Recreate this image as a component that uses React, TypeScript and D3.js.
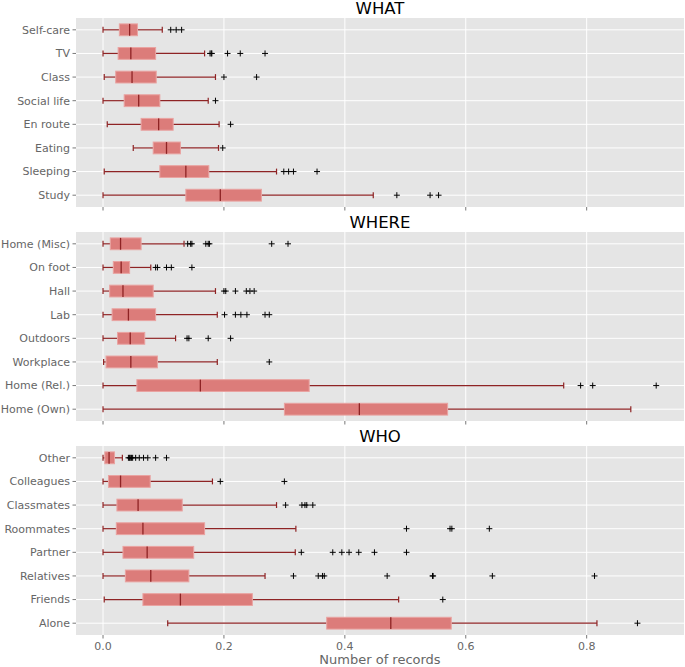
import React from "react";
import * as d3 from "d3";

// ---------- DATA ----------
type Box = { name: string; lo: number; q1: number; med: number; q3: number; hi: number; fliers: number[] };

const whatCats = ["Self-care", "TV", "Class", "Social life", "En route", "Eating", "Sleeping", "Study"];
const whatStats: [number, number, number, number, number][] = [
  [0.0, 0.027, 0.044, 0.057, 0.098],
  [0.0, 0.025, 0.046, 0.087, 0.168],
  [0.002, 0.021, 0.048, 0.088, 0.186],
  [0.0, 0.035, 0.059, 0.094, 0.174],
  [0.007, 0.063, 0.092, 0.116, 0.192],
  [0.05, 0.083, 0.105, 0.128, 0.191],
  [0.002, 0.094, 0.137, 0.175, 0.287],
  [0.0, 0.137, 0.194, 0.262, 0.447],
];
const whatFliers: number[][] = [
  [0.112, 0.121, 0.13],
  [0.177, 0.179, 0.18, 0.206, 0.227, 0.268],
  [0.2, 0.254],
  [0.186],
  [0.211],
  [0.198],
  [0.299, 0.307, 0.315, 0.354],
  [0.486, 0.541, 0.555],
];

const whereCats = ["Home (Misc)", "On foot", "Hall", "Lab", "Outdoors", "Workplace", "Home (Rel.)", "Home (Own)"];
const whereStats: [number, number, number, number, number][] = [
  [0.0, 0.012, 0.029, 0.063, 0.134],
  [0.0, 0.017, 0.03, 0.044, 0.079],
  [0.0, 0.011, 0.033, 0.083, 0.186],
  [0.0, 0.015, 0.042, 0.087, 0.189],
  [0.0, 0.024, 0.045, 0.069, 0.12],
  [0.001, 0.005, 0.046, 0.09, 0.189],
  [0.0, 0.056, 0.161, 0.341, 0.762],
  [0.0, 0.3, 0.424, 0.57, 0.873],
];
const whereFliers: number[][] = [
  [0.14, 0.145, 0.147, 0.17, 0.174, 0.176, 0.279, 0.306],
  [0.087, 0.09, 0.105, 0.113, 0.147],
  [0.2, 0.203, 0.219, 0.237, 0.243, 0.25],
  [0.201, 0.219, 0.228, 0.238, 0.268, 0.275],
  [0.139, 0.142, 0.174, 0.211],
  [0.275],
  [0.79, 0.81, 0.915],
  [],
];

const whoCats = ["Other", "Colleagues", "Classmates", "Roommates", "Partner", "Relatives", "Friends", "Alone"];
const whoStats: [number, number, number, number, number][] = [
  [0.0, 0.003, 0.01, 0.019, 0.032],
  [0.0, 0.009, 0.029, 0.078, 0.181],
  [0.0, 0.023, 0.058, 0.131, 0.287],
  [0.0, 0.022, 0.066, 0.168, 0.319],
  [0.0, 0.033, 0.073, 0.15, 0.318],
  [0.0, 0.037, 0.079, 0.142, 0.268],
  [0.002, 0.066, 0.128, 0.247, 0.489],
  [0.107, 0.37, 0.476, 0.576, 0.817],
];
const whoFliers: number[][] = [
  [0.042, 0.044, 0.045, 0.047, 0.049, 0.054, 0.06, 0.067, 0.074, 0.087, 0.105],
  [0.194, 0.3],
  [0.302, 0.329, 0.334, 0.337, 0.347],
  [0.502, 0.574, 0.577, 0.639],
  [0.328, 0.38, 0.395, 0.407, 0.423, 0.449, 0.502],
  [0.315, 0.356, 0.363, 0.366, 0.47, 0.545, 0.546, 0.644, 0.813],
  [0.562],
  [0.884],
];

const panelTitles = ["WHAT", "WHERE", "WHO"];
const xTicks = [0.0, 0.2, 0.4, 0.6, 0.8];
const xLabel = "Number of records";

function build(cats: string[], stats: [number, number, number, number, number][], fl: number[][]): Box[] {
  return cats.map((name, i) => ({
    name,
    lo: stats[i][0],
    q1: stats[i][1],
    med: stats[i][2],
    q3: stats[i][3],
    hi: stats[i][4],
    fliers: fl[i],
  }));
}

const panels = [
  build(whatCats, whatStats, whatFliers),
  build(whereCats, whereStats, whereFliers),
  build(whoCats, whoStats, whoFliers),
];

// ---------- LAYOUT ----------
const W = 685;
const H = 667;
const left = 76;
const right = 684;
const panelTops = [18, 232, 446];
const panelH = 189;
const FONT = "DejaVu Sans, sans-serif";
const BG = "#E5E5E5";
const TICK = "#555555";
const LABEL = "#666666";
const FILL = "#dc7c7a";
const EDGE = "#e9a3a1";
const DARK = "#8e2324";

export default function App() {
  const x = d3.scaleLinear().domain([-0.0447, 0.961]).range([left, right]);

  return (
    <svg width={W} height={H} style={{ position: "absolute", left: 0, top: 0, background: "#fff" }} fontFamily={FONT}>
      {panels.map((boxes, pi) => {
        const top = panelTops[pi];
        const y = d3.scalePoint<string>().domain(boxes.map((b) => b.name)).range([top, top + panelH]).padding(0.5);
        const step = y.step();
        const bh = step * 0.5;
        const capH = step * 0.25;
        return (
          <g key={pi}>
            <rect x={left} y={top} width={right - left} height={panelH} fill={BG} />
            {xTicks.map((t) => (
              <line key={"vg" + t} x1={x(t)} x2={x(t)} y1={top} y2={top + panelH} stroke="#fff" strokeWidth={1} />
            ))}
            {boxes.map((b) => (
              <line key={"hg" + b.name} x1={left} x2={right} y1={y(b.name)} y2={y(b.name)} stroke="#fff" strokeWidth={1} />
            ))}
            {xTicks.map((t) => (
              <line key={"xt" + t} x1={x(t)} x2={x(t)} y1={top + panelH} y2={top + panelH + 3.5} stroke={TICK} strokeWidth={0.8} />
            ))}
            {boxes.map((b) => {
              const cy = y(b.name)!;
              return (
                <g key={"b" + b.name}>
                  <line x1={left - 3.5} x2={left} y1={cy} y2={cy} stroke={TICK} strokeWidth={0.8} />
                  <text x={left - 6} y={cy} dy="0.35em" textAnchor="end" fontSize={11} fill={LABEL}>
                    {b.name}
                  </text>
                  <line x1={x(b.lo)} x2={x(b.q1)} y1={cy} y2={cy} stroke={DARK} strokeWidth={1.2} />
                  <line x1={x(b.q3)} x2={x(b.hi)} y1={cy} y2={cy} stroke={DARK} strokeWidth={1.2} />
                  <line x1={x(b.lo)} x2={x(b.lo)} y1={cy - capH / 2} y2={cy + capH / 2} stroke={DARK} strokeWidth={1.2} />
                  <line x1={x(b.hi)} x2={x(b.hi)} y1={cy - capH / 2} y2={cy + capH / 2} stroke={DARK} strokeWidth={1.2} />
                  <rect
                    x={x(b.q1)}
                    y={cy - bh / 2}
                    width={x(b.q3) - x(b.q1)}
                    height={bh}
                    fill={FILL}
                    stroke={EDGE}
                    strokeWidth={1}
                  />
                  <line x1={x(b.med)} x2={x(b.med)} y1={cy - bh / 2} y2={cy + bh / 2} stroke={DARK} strokeWidth={1.3} />
                  {b.fliers.map((f, k) => (
                    <path
                      key={k}
                      d={`M${x(f) - 3},${cy}H${x(f) + 3}M${x(f)},${cy - 3}V${cy + 3}`}
                      stroke="#000"
                      strokeWidth={1}
                      fill="none"
                    />
                  ))}
                </g>
              );
            })}
            <text x={(left + right) / 2} y={top - 4} textAnchor="middle" fontSize={16.5} fill="#000">
              {panelTitles[pi]}
            </text>
          </g>
        );
      })}
      {xTicks.map((t) => (
        <text
          key={"xl" + t}
          x={x(t)}
          y={650}
          textAnchor="middle"
          fontSize={11}
          fill={LABEL}
        >
          {t.toFixed(1)}
        </text>
      ))}
      <text x={(left + right) / 2} y={664} textAnchor="middle" fontSize={13} fill={LABEL}>
        {xLabel}
      </text>
    </svg>
  );
}
